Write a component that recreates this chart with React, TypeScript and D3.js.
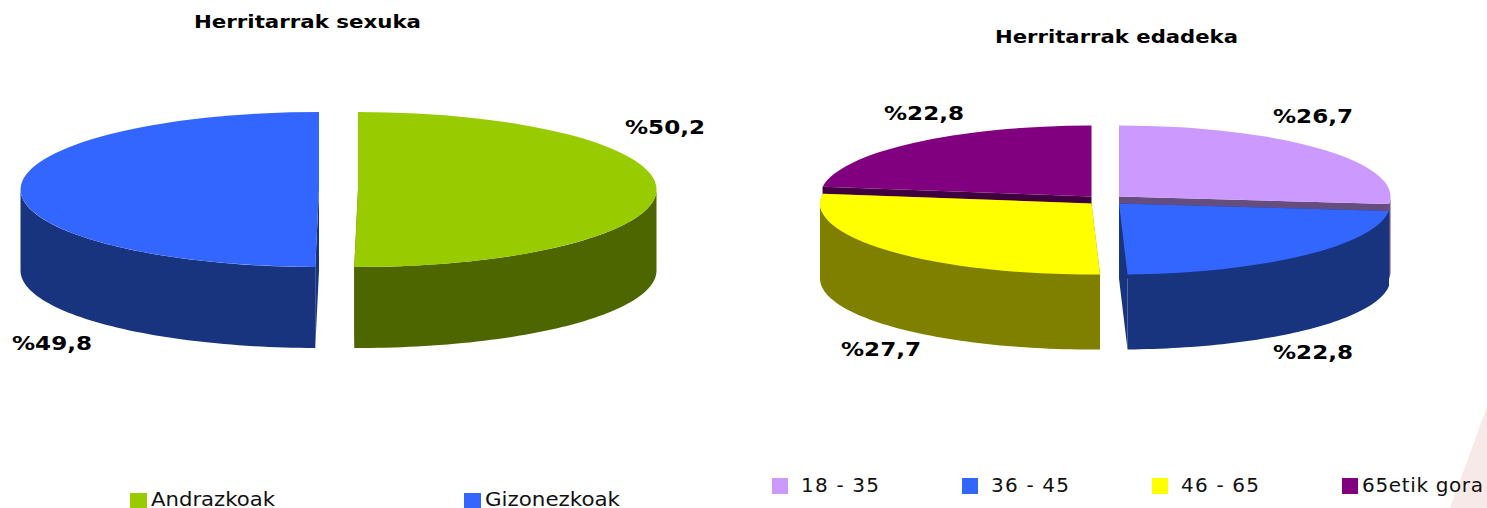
import React from "react";
import * as d3 from "d3";

const sexLabels = ["Andrazkoak", "Gizonezkoak"];
const sexValues = [50.2, 49.8];
const sexTop = ["#99cc00", "#3366ff"];
const sexSide = ["#4d6600", "#18347f"];

const ageLabels = ["18 - 35", "36 - 45", "46 - 65", "65etik gora"];
const ageValues = [26.7, 22.8, 27.7, 22.8];
const ageTop = ["#cc99ff", "#3366ff", "#ffff00", "#800080"];
const ageSide = ["#664d80", "#18347f", "#808000", "#400040"];

const FONT = "'DejaVu Sans', Verdana, sans-serif";
const PI = Math.PI;

type PieConfig = {
  values: number[];
  top: string[];
  side: string[];
  cx: number;
  cy: number;
  rx: number;
  ry: number;
  depth: number;
  explode: [number, number][];
  drawOrder: number[];
};

const sexPie: PieConfig = {
  values: sexValues,
  top: sexTop,
  side: sexSide,
  cx: 338.5,
  cy: 189.5,
  rx: 298.5,
  ry: 77.5,
  depth: 81,
  explode: [
    [19.5, 0],
    [-19.5, 0],
  ],
  drawOrder: [0, 1],
};

const agePie: PieConfig = {
  values: ageValues,
  top: ageTop,
  side: ageSide,
  cx: 1105.25,
  cy: 200,
  rx: 271.5,
  ry: 71,
  depth: 75,
  explode: [
    [13.75, -3.5],
    [13.75, 3.5],
    [-13.75, 3.5],
    [-13.75, -3.5],
  ],
  drawOrder: [3, 0, 2, 1],
};

const line = d3.line<[number, number]>();

function Pie3D({ cfg }: { cfg: PieConfig }) {
  const slices = d3.pie<number>().sort(null)(cfg.values);
  const arcShape = d3.arc<d3.PieArcDatum<number>>().innerRadius(0).outerRadius(cfg.rx);
  const yScale = cfg.ry / cfg.rx;

  return (
    <g>
      {cfg.drawOrder.map((i) => {
        const s = slices[i];
        const [dx, dy] = cfg.explode[i];
        const ax = cfg.cx + dx;
        const ay = cfg.cy + dy;
        const rim = (a: number): [number, number] => [
          ax + cfg.rx * Math.sin(a),
          ay - cfg.ry * Math.cos(a),
        ];
        const down = (p: [number, number]): [number, number] => [p[0], p[1] + cfg.depth];
        const face = (a: number) => {
          const p = rim(a);
          return line([[ax, ay], p, down(p), [ax, ay + cfg.depth]]) + "Z";
        };

        // the outer wall only shows on the near half of the ellipse
        const from = Math.max(s.startAngle, PI / 2);
        const to = Math.min(s.endAngle, (3 * PI) / 2);
        let wall = null;
        if (to > from) {
          const upper = d3.range(0, 61).map((k) => rim(from + ((to - from) * k) / 60));
          const outline = upper.concat(upper.map(down).reverse());
          wall = <path d={line(outline) + "Z"} fill={cfg.side[i]} />;
        }

        return (
          <g key={i}>
            <path d={face(s.startAngle)} fill={cfg.side[i]} />
            <path d={face(s.endAngle)} fill={cfg.side[i]} />
            {wall}
            <path
              d={arcShape(s) as string}
              fill={cfg.top[i]}
              transform={`translate(${ax},${ay}) scale(1,${yScale})`}
            />
          </g>
        );
      })}
    </g>
  );
}

const titleStyle = { fontFamily: FONT, fontWeight: 700, fontSize: 18.5, fill: "#000" };
const pctStyle = { fontFamily: FONT, fontWeight: 700, fontSize: 20, fill: "#000" };
const legendStyle = { fontFamily: FONT, fontSize: 20, fill: "#111" };

const sexPctPos = [
  [665, 134],
  [52, 350],
];
const agePctPos = [
  [1313, 123],
  [1313, 359],
  [881, 356],
  [924, 120],
];

const pctText = (v: number) => "%" + String(v).replace(".", ",");

export default function App() {
  return (
    <svg
      width={1487}
      height={508}
      style={{ position: "absolute", left: 0, top: 0, background: "#fff" }}
    >
      <polygon points="1487,407 1487,508 1450,508" fill="#f7e9e7" />

      <text x={194} y={28} textLength={227} lengthAdjust="spacingAndGlyphs" style={titleStyle}>
        Herritarrak sexuka
      </text>
      <text x={995} y={43} textLength={243} lengthAdjust="spacingAndGlyphs" style={titleStyle}>
        Herritarrak edadeka
      </text>

      <Pie3D cfg={sexPie} />
      <Pie3D cfg={agePie} />

      {sexValues.map((v, i) => (
        <text
          key={i}
          x={sexPctPos[i][0] - 40}
          y={sexPctPos[i][1]}
          textLength={80}
          lengthAdjust="spacingAndGlyphs"
          style={pctStyle}
        >
          {pctText(v)}
        </text>
      ))}
      {ageValues.map((v, i) => (
        <text
          key={i}
          x={agePctPos[i][0] - 40}
          y={agePctPos[i][1]}
          textLength={80}
          lengthAdjust="spacingAndGlyphs"
          style={pctStyle}
        >
          {pctText(v)}
        </text>
      ))}

      {sexLabels.map((d, i) => (
        <g key={d} transform={`translate(${130 + i * 334},493)`}>
          <rect width={17} height={15} fill={sexTop[i]} />
          <text x={21} y={13} textLength={i === 0 ? 124 : 135} lengthAdjust="spacingAndGlyphs" style={legendStyle}>
            {d}
          </text>
        </g>
      ))}
      {ageLabels.map((d, i) => (
        <g key={d} transform={`translate(${772 + i * 190},478)`}>
          <rect width={16} height={16} fill={ageTop[i]} />
          <text
            x={i === 3 ? 20 : 29}
            y={14}
            textLength={i === 3 ? 121 : 78}
            lengthAdjust="spacing"
            style={legendStyle}
          >
            {d}
          </text>
        </g>
      ))}
    </svg>
  );
}
